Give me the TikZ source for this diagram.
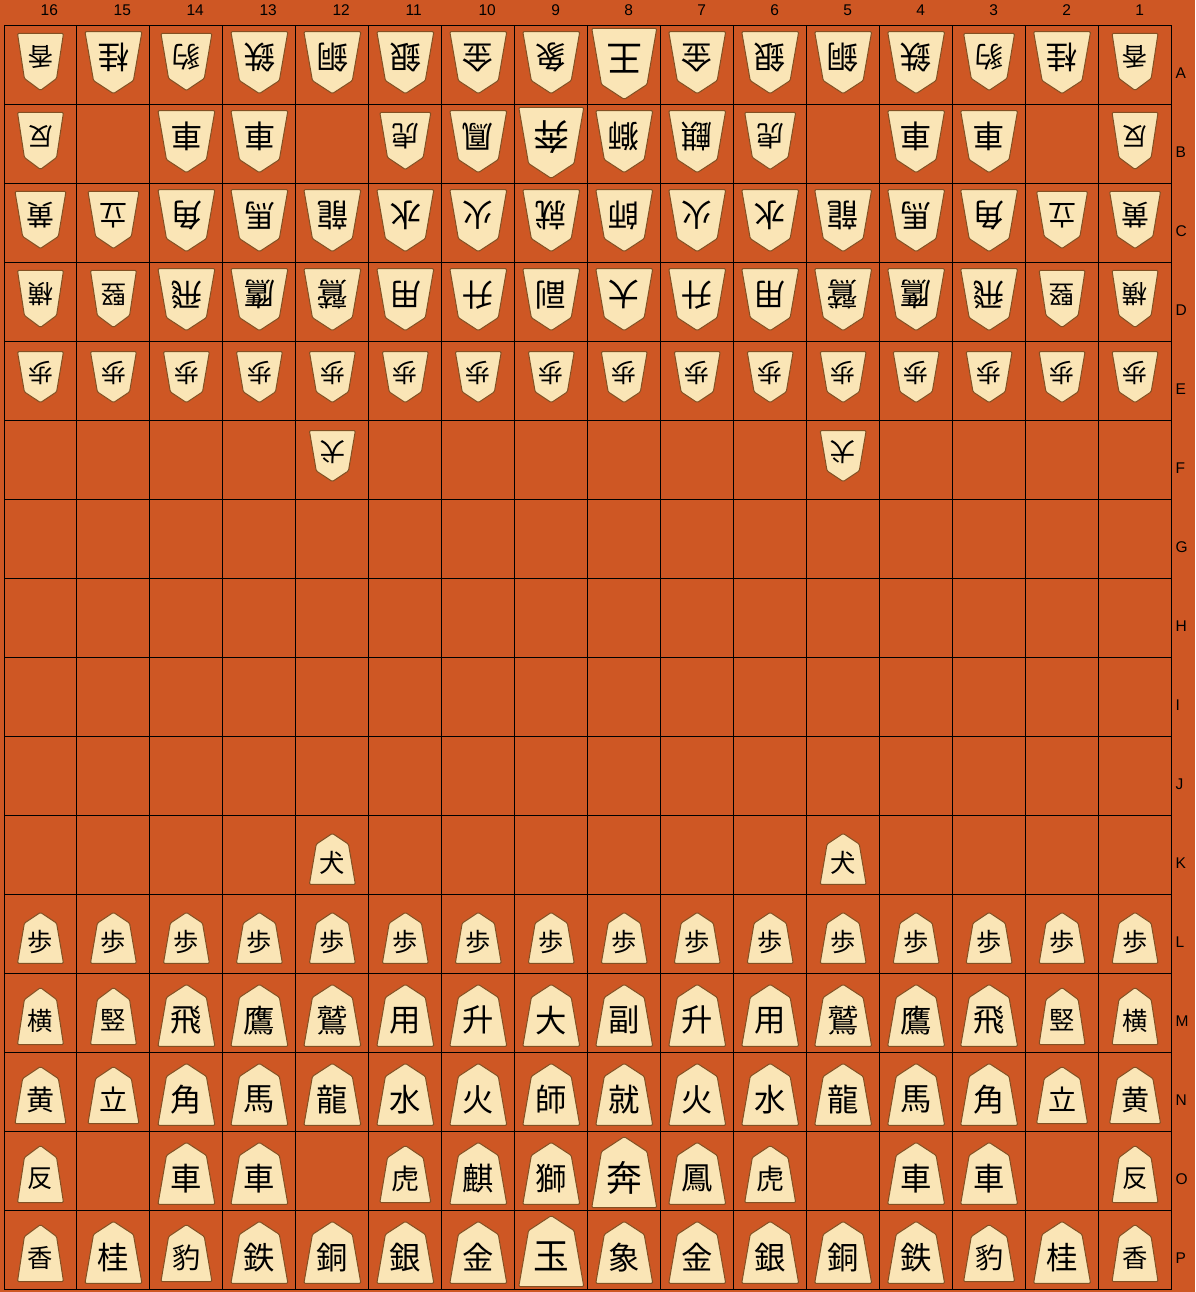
\documentclass[tikz,border=0pt]{standalone}
\usepackage{fontspec}
\newfontfamily\cjk{Noto Sans CJK JP}
\newfontfamily\lab{Liberation Sans}

\definecolor{boardbg}{RGB}{206,87,36}
\definecolor{komafill}{RGB}{250,229,182}
\definecolor{komaedge}{RGB}{130,80,35}

% piece sizes: P pawn, S small, T small wide, M medium, L king
\def\kwP{46}\def\khP{51}
\def\kwS{46}\def\khS{57}
\def\kwT{51}\def\khT{57}
\def\kwM{57}\def\khM{62}
\def\kwL{65}\def\khL{71}

% \koma{file}{rank}{size}{rotation}{kanji}
\newcommand{\koma}[5]{%
  \edef\kw{\csname kw#3\endcsname}%
  \edef\kh{\csname kh#3\endcsname}%
  \pgfmathsetmacro{\kx}{4+(16.5-#1)*72.97}%
  \pgfmathsetmacro{\ky}{25.5+(#2-0.5)*79}%
  \pgfmathsetmacro{\kdy}{0.14*(79-\kh)}%
  \pgfmathsetmacro{\kfs}{0.55*\kw}%
  \begin{scope}[shift={(\kx,\ky)},rotate=#4]
    \path[koma] ({-\kw/2},{\kdy+\kh/2}) -- ({\kw/2},{\kdy+\kh/2})
      -- ({0.35*\kw},{\kdy-0.29*\kh}) -- (0,{\kdy-\kh/2})
      -- ({-0.35*\kw},{\kdy-0.29*\kh}) -- cycle;
    \node[kanji,rotate=#4,font=\cjk\fontsize{\kfs}{\kfs}\selectfont]
      (k#1-#2) at (0,{\kdy+0.08*\kh}) {#5};
  \end{scope}}

% one rank of pieces
\newcommand{\komarow}[3]{%
  \foreach \fl/\sz/\kj in {#3} {\koma{\fl}{#1}{\sz}{#2}{\kj}}}

\begin{document}
\begin{tikzpicture}[x=1pt,y=-1pt,
    koma/.style={draw=komaedge,fill=komafill,line width=1pt,
      line join=round,rounded corners=1.2pt},
    kanji/.style={inner sep=0pt,text=black},
    filelabel/.style={font=\lab\fontsize{15.5}{15.5}\selectfont,
      anchor=west,inner sep=0pt},
    ranklabel/.style={filelabel},
    gridline/.style={line width=1pt,black}]
  \useasboundingbox (0,0) rectangle (1195,1292);
  \fill[boardbg] (0,0) rectangle (1195,1292);

  % board
  \foreach \i in {0,...,16} {
    \draw[gridline] ({4+\i*72.97},25.5) -- ({4+\i*72.97},1289.5);
    \draw[gridline] (4,{25.5+\i*79}) -- (1171.5,{25.5+\i*79});
  }

  % file numbers and rank letters
  \foreach \f in {16,...,1}
    \node[filelabel] (f\f) at ({4+(16.5-\f)*72.97},10.5) {\f};
  \foreach \r [count=\i] in {A,B,C,D,E,F,G,H,I,J,K,L,M,N,O,P}
    \node[ranklabel] (r\r) at (1175.5,{25.5+(\i-0.5)*79+8.5}) {\r};

  % gote
  \komarow{1}{180}{16/S/香,15/M/桂,14/T/豹,13/M/鉄,12/M/銅,11/M/銀,10/M/金,9/M/象,
    8/L/王,7/M/金,6/M/銀,5/M/銅,4/M/鉄,3/T/豹,2/M/桂,1/S/香}
  \komarow{2}{180}{16/S/反,14/M/車,13/M/車,11/T/虎,10/M/鳳,9/L/奔,8/M/獅,7/M/麒,
    6/T/虎,4/M/車,3/M/車,1/S/反}
  \komarow{3}{180}{16/T/黄,15/T/立,14/M/角,13/M/馬,12/M/龍,11/M/水,10/M/火,9/M/就,
    8/M/師,7/M/火,6/M/水,5/M/龍,4/M/馬,3/M/角,2/T/立,1/T/黄}
  \komarow{4}{180}{16/S/横,15/S/竪,14/M/飛,13/M/鷹,12/M/鷲,11/M/用,10/M/升,9/M/副,
    8/M/大,7/M/升,6/M/用,5/M/鷲,4/M/鷹,3/M/飛,2/S/竪,1/S/横}
  \komarow{6}{180}{12/P/犬,5/P/犬}

  % sente
  \komarow{11}{0}{12/P/犬,5/P/犬}
  \komarow{13}{0}{16/S/横,15/S/竪,14/M/飛,13/M/鷹,12/M/鷲,11/M/用,10/M/升,9/M/大,
    8/M/副,7/M/升,6/M/用,5/M/鷲,4/M/鷹,3/M/飛,2/S/竪,1/S/横}
  \komarow{14}{0}{16/T/黄,15/T/立,14/M/角,13/M/馬,12/M/龍,11/M/水,10/M/火,9/M/師,
    8/M/就,7/M/火,6/M/水,5/M/龍,4/M/馬,3/M/角,2/T/立,1/T/黄}
  \komarow{15}{0}{16/S/反,14/M/車,13/M/車,11/T/虎,10/M/麒,9/M/獅,8/L/奔,7/M/鳳,
    6/T/虎,4/M/車,3/M/車,1/S/反}
  \komarow{16}{0}{16/S/香,15/M/桂,14/T/豹,13/M/鉄,12/M/銅,11/M/銀,10/M/金,9/L/玉,
    8/M/象,7/M/金,6/M/銀,5/M/銅,4/M/鉄,3/T/豹,2/M/桂,1/S/香}

  % pawns
  \foreach \fl in {16,...,1} {
    \koma{\fl}{5}{P}{180}{歩}
    \koma{\fl}{12}{P}{0}{歩}
  }
\end{tikzpicture}
\end{document}
